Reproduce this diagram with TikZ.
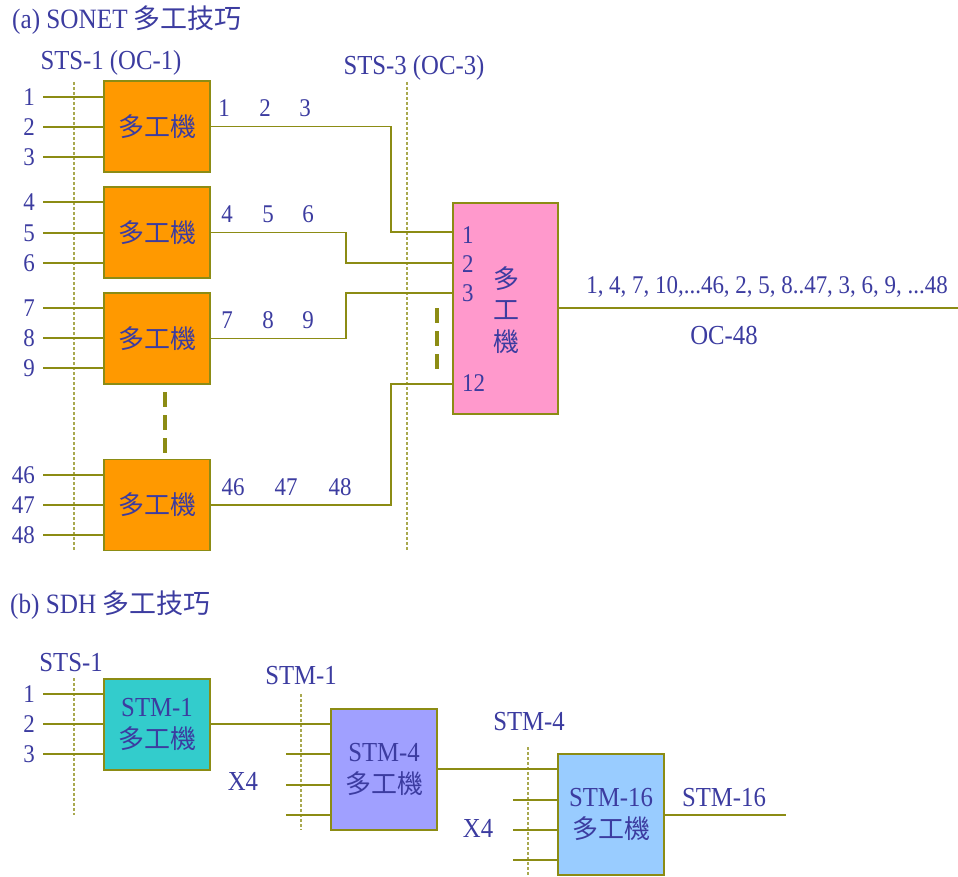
\documentclass[tikz,border=0pt]{standalone}
\usepackage{fontspec}
\setmainfont{Liberation Serif}[FakeStretch=0.9]
\newfontfamily\cjk{Noto Sans CJK TC}
\newcommand\mycjk{\cjk\fontsize{26}{32}\selectfont}
\definecolor{txt}{RGB}{60,60,160}
\definecolor{olv}{RGB}{140,140,20}
\definecolor{orng}{RGB}{255,153,0}
\definecolor{pnk}{RGB}{255,153,204}
\definecolor{teal1}{RGB}{51,204,204}
\definecolor{lav}{RGB}{160,160,255}
\definecolor{lblue}{RGB}{153,204,255}
\tikzset{
  lbl/.style={text=txt, font=\fontsize{25.5}{32}\selectfont, inner sep=0pt},
  wlbl/.style={text=txt, font=\fontsize{27.5}{32}\selectfont, inner sep=0pt},
  ttl/.style={text=txt, font=\fontsize{28}{30}\selectfont, inner sep=0pt, anchor=west},
  mux/.style={draw=olv, line width=1.8pt, minimum width=106pt, minimum height=91pt, inner sep=0pt, text=txt, font=\fontsize{27.5}{32}\selectfont, align=center},
  wire/.style={draw=olv, line width=1.3pt},
  guide/.style={draw=olv!75, line width=1.2pt, dash pattern=on 3pt off 2pt},
  gapline/.style={draw=olv, line width=3.5pt, dash pattern=on 15pt off 8pt}
}
\begin{document}
\begin{tikzpicture}[x=1pt,y=-1pt]
\useasboundingbox (0,0) rectangle (958,877);
% ---------- (a) ----------
\node[ttl] (ta) at (12,20) {(a) SONET {\cjk\fontsize{27}{30}\selectfont 多工技巧}};
\node[wlbl] (sts1) at (111,63) {STS-1 (OC-1)};
\node[wlbl] (sts3) at (414,68) {STS-3 (OC-3)};
\coordinate (g1a) at (74,82); \coordinate (g1b) at (74,550);
\coordinate (g2a) at (407,82); \coordinate (g2b) at (407,550);
\draw[guide] (g1a) -- (g1b);
\draw[guide] (g2a) -- (g2b);

\node[mux, fill=orng] (m1) at (157,126.5) {\mycjk 多工機};
\node[mux, fill=orng] (m2) at (157,232.5) {\mycjk 多工機};
\node[mux, fill=orng] (m3) at (157,338.5) {\mycjk 多工機};
\node[mux, fill=orng] (m4) at (157,505) {\mycjk 多工機};

\node[mux, fill=pnk, minimum width=105pt, minimum height=211pt] (pk) at (505.5,308.5) {};
\node[lbl] (pc1) at (506,279) {\mycjk 多};
\node[lbl] (pc2) at (506,310) {\mycjk 工};
\node[lbl] (pc3) at (506,342) {\mycjk 機};
\node[lbl, anchor=west] (pn1) at (462,235) {1};
\node[lbl, anchor=west] (pn2) at (462,264) {2};
\node[lbl, anchor=west] (pn3) at (462,293) {3};
\node[lbl, anchor=west] (pn12) at (462,383) {12};

% inputs
\foreach \n/\y/\t/\m in {a/97/1/m1, b/127/2/m1, c/157/3/m1, d/202/4/m2, e/233/5/m2, f/263/6/m2, g/308/7/m3, h/338/8/m3, i/368/9/m3, j/475/46/m4, k/505/47/m4, l/535/48/m4}{
  \coordinate (in\n) at (43,\y);
  \draw[wire] (in\n) -- (\m.west |- in\n);
  \node[lbl, anchor=east] (il\n) at (35,\y) {\t};
}
% output labels
\node[lbl] (o1) at (224,108) {1};
\node[lbl] (o2) at (265,108) {2};
\node[lbl] (o3) at (305,108) {3};
\node[lbl] (o4) at (227,214) {4};
\node[lbl] (o5) at (268,214) {5};
\node[lbl] (o6) at (308,214) {6};
\node[lbl] (o7) at (227,320) {7};
\node[lbl] (o8) at (268,320) {8};
\node[lbl] (o9) at (308,320) {9};
\node[lbl] (o46) at (233,487) {46};
\node[lbl] (o47) at (286,487) {47};
\node[lbl] (o48) at (340,487) {48};

% connectors to pink box
\coordinate (k1) at (391,232); \coordinate (k2) at (346,263);
\coordinate (k3) at (346,293); \coordinate (k4) at (391,384);
\draw[wire] (m1.east) -| (k1) -- (pk.west |- k1);
\draw[wire] (m2.east) -| (k2) -- (pk.west |- k2);
\draw[wire] (m3.east) -| (k3) -- (pk.west |- k3);
\draw[wire] (m4.east) -| (k4) -- (pk.west |- k4);

\coordinate (d1a) at (165,392); \coordinate (d1b) at (165,454);
\draw[gapline] (d1a) -- (d1b);
\coordinate (d2a) at (437,308); \coordinate (d2b) at (437,371);
\draw[gapline] (d2a) -- (d2b);

\coordinate (oend) at (958,308);
\draw[wire] (pk.east |- oend) -- (oend);
\node[lbl] (seq) at (767,287) {1, 4, 7, 10,...46, 2, 5, 8..47, 3, 6, 9, ...48};
\node[wlbl] (oc48) at (724,335) {OC-48};

% ---------- (b) ----------
\node[ttl] (tb) at (10,605) {(b) SDH {\cjk\fontsize{27}{30}\selectfont 多工技巧}};
\node[wlbl] (bsts) at (71,663) {STS-1};
\coordinate (h1a) at (74,678); \coordinate (h1b) at (74,815);
\draw[guide] (h1a) -- (h1b);
\node[mux, fill=teal1] (s1) at (157,724.5) {STM-1\\\mycjk 多工機};
\foreach \n/\y/\t in {a/694/1, b/724/2, c/754/3}{
  \coordinate (bi\n) at (43,\y);
  \draw[wire] (bi\n) -- (s1.west |- bi\n);
  \node[lbl, anchor=east] (bl\n) at (35,\y) {\t};
}
\node[wlbl] (lstm1) at (301,676) {STM-1};
\coordinate (h2a) at (301,694); \coordinate (h2b) at (301,830);
\draw[guide] (h2a) -- (h2b);
\node[mux, fill=lav, minimum height=121pt] (s4) at (384,769.5) {STM-4\\\mycjk 多工機};
\coordinate (q1) at (331,724);
\draw[wire] (s1.east |- q1) -- (q1);
\foreach \n/\y in {a/754, b/785, c/815}{
  \coordinate (p\n) at (286,\y);
  \draw[wire] (p\n) -- (s4.west |- p\n);
}
\node[wlbl] (x4a) at (243,781) {X4};

\node[wlbl] (lstm4) at (529,722) {STM-4};
\coordinate (h3a) at (528,747); \coordinate (h3b) at (528,877);
\draw[guide] (h3a) -- (h3b);
\node[mux, fill=lblue, minimum height=121pt] (s16) at (611,814.5) {STM-16\\\mycjk 多工機};
\coordinate (q2) at (558,769);
\draw[wire] (s4.east |- q2) -- (q2);
\foreach \n/\y in {a/800, b/830, c/860}{
  \coordinate (r\n) at (513,\y);
  \draw[wire] (r\n) -- (s16.west |- r\n);
}
\node[wlbl] (x4b) at (478,828) {X4};
\coordinate (fend) at (786,815);
\draw[wire] (s16.east |- fend) -- (fend);
\node[wlbl] (lstm16) at (724,798) {STM-16};
\end{tikzpicture}
\end{document}
